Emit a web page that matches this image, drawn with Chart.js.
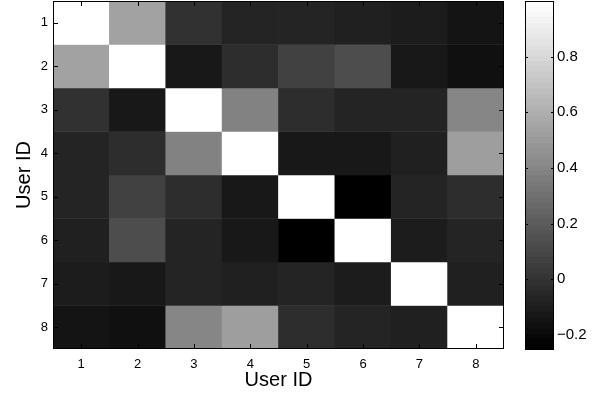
<!DOCTYPE html>
<html>
<head>
<meta charset="utf-8">
<script src="https://cdn.jsdelivr.net/npm/chart.js@4/dist/chart.umd.min.js"></script>
<style>
  body { margin: 0; background: #fff; }
  #main { position: absolute; left: 0; top: 0; }
  #cbar { position: absolute; left: 505px; top: 0; }
</style>
</head>
<body>
<canvas id="main" width="515" height="393"></canvas>
<canvas id="cbar" width="91" height="393"></canvas>
<script>
// user ids on both axes
const userIds = ['1', '2', '3', '4', '5', '6', '7', '8'];

// correlation between users, one row per user
const row1 = [1.00, 0.53, -0.01, -0.06, -0.07, -0.08, -0.11, -0.15];
const row2 = [0.53, 1.00, -0.12, -0.03, 0.07, 0.13, -0.12, -0.17];
const row3 = [-0.01, -0.12, 1.00, 0.38, -0.03, -0.07, -0.07, 0.41];
const row4 = [-0.06, -0.03, 0.38, 1.00, -0.13, -0.12, -0.08, 0.52];
const row5 = [-0.07, 0.07, -0.03, -0.13, 1.00, -0.254, -0.07, -0.02];
const row6 = [-0.08, 0.13, -0.07, -0.12, -0.254, 1.00, -0.11, -0.07];
const row7 = [-0.11, -0.12, -0.07, -0.08, -0.07, -0.11, 1.00, -0.08];
const row8 = [-0.15, -0.17, 0.41, 0.52, -0.02, -0.07, -0.08, 1.00];
const rows = [row1, row2, row3, row4, row5, row6, row7, row8];

// colorbar
const cbarMin = -0.254;
const cbarMax = 1.0;
const cbarTicks = [-0.2, 0, 0.2, 0.4, 0.6, 0.8];

// matlab gray(64)
const nLevels = 64;
function levelColor(k) {
  const g = Math.round(k / (nLevels - 1) * 255);
  return 'rgb(' + g + ',' + g + ',' + g + ')';
}
function grayFor(v) {
  let k = Math.floor((v - cbarMin) / (cbarMax - cbarMin) * nLevels);
  k = Math.max(0, Math.min(nLevels - 1, k));
  return levelColor(k);
}

const FONT = 'Liberation Sans, Arial, Helvetica, sans-serif';

// no extra room for half tick labels, the box is placed by hand
function noPad(s) {
  s.paddingTop = 0; s.paddingBottom = 0; s.paddingLeft = 0; s.paddingRight = 0;
}

// inward tick marks + box, matlab style
function boxTicks(len) {
  return {
    id: 'boxTicks',
    afterDatasetsDraw(chart) {
      const { ctx, chartArea: a, scales } = chart;
      ctx.save();
      ctx.strokeStyle = '#000';
      ctx.lineWidth = 1;
      ctx.beginPath();
      if (scales.x && scales.x.options.display) {
        scales.x.ticks.forEach((t, i) => {
          const x = Math.round(scales.x.getPixelForTick(i)) + 0.5;
          ctx.moveTo(x, a.top); ctx.lineTo(x, a.top + len);
          ctx.moveTo(x, a.bottom); ctx.lineTo(x, a.bottom - len);
        });
      }
      scales.y.ticks.forEach((t, i) => {
        const y = Math.round(scales.y.getPixelForTick(i)) + 0.5;
        ctx.moveTo(a.left, y); ctx.lineTo(a.left + len, y);
        ctx.moveTo(a.right, y); ctx.lineTo(a.right - len, y);
      });
      ctx.stroke();
      ctx.strokeRect(Math.round(a.left) + 0.5, Math.round(a.top) + 0.5,
        Math.round(a.right - a.left) - 1, Math.round(a.bottom - a.top) - 1);
      ctx.restore();
    }
  };
}

new Chart(document.getElementById('main'), {
  type: 'bar',
  data: {
    labels: userIds,
    datasets: rows.map((row, i) => ({
      data: userIds.map(() => [i + 0.5, i + 1.5]),
      backgroundColor: row.map(grayFor),
      borderWidth: 0,
      grouped: false,
      categoryPercentage: 1,
      barPercentage: 1
    }))
  },
  options: {
    responsive: false,
    animation: false,
    layout: { padding: { left: 0, top: 1, right: 11, bottom: 0 } },
    plugins: { legend: { display: false }, tooltip: { enabled: false } },
    scales: {
      x: {
        grid: { display: false, drawTicks: false },
        border: { display: false },
        ticks: { color: '#000', font: { family: FONT, size: 13 }, padding: 8 },
        title: { display: true, text: 'User ID', color: '#000', font: { family: FONT, size: 20 }, padding: { top: 0, bottom: 1 } },
        afterFit: s => { s.height = 44; noPad(s); }
      },
      y: {
        min: 0.5,
        max: 8.5,
        reverse: true,
        grid: { display: false, drawTicks: false },
        border: { display: false },
        ticks: { color: '#000', font: { family: FONT, size: 13 }, padding: 5 },
        afterBuildTicks: s => { s.ticks = userIds.map(v => ({ value: +v })); },
        title: { display: true, text: 'User ID', color: '#000', font: { family: FONT, size: 20 }, padding: { top: 12, bottom: 0 } },
        afterFit: s => { s.width = 53; noPad(s); }
      }
    }
  },
  plugins: [boxTicks(5)]
});

new Chart(document.getElementById('cbar'), {
  type: 'bar',
  data: {
    labels: [''],
    datasets: [{
      data: [[cbarMin, cbarMax]],
      borderWidth: 0,
      categoryPercentage: 1,
      barPercentage: 1,
      backgroundColor: ctx => {
        const a = ctx.chart.chartArea;
        if (!a) return '#888';
        const g = ctx.chart.ctx.createLinearGradient(0, a.bottom, 0, a.top);
        for (let k = 0; k < nLevels; k++) {
          g.addColorStop(k / nLevels, levelColor(k));
          g.addColorStop((k + 1) / nLevels, levelColor(k));
        }
        return g;
      }
    }]
  },
  options: {
    responsive: false,
    animation: false,
    layout: { padding: { left: 20, top: 1, right: 0, bottom: 43 } },
    plugins: { legend: { display: false }, tooltip: { enabled: false } },
    scales: {
      x: { display: false },
      y: {
        position: 'right',
        min: cbarMin,
        max: cbarMax,
        grid: { display: false, drawTicks: false },
        border: { display: false },
        afterBuildTicks: s => { s.ticks = cbarTicks.map(v => ({ value: v })); },
        ticks: {
          color: '#000',
          font: { family: FONT, size: 15 },
          padding: 3,
          callback: v => (v < 0 ? '\u2212' + Math.abs(v) : String(v))
        },
        afterFit: s => { s.width = 42; noPad(s); }
      }
    }
  },
  plugins: [boxTicks(3)]
});
</script>
</body>
</html>
